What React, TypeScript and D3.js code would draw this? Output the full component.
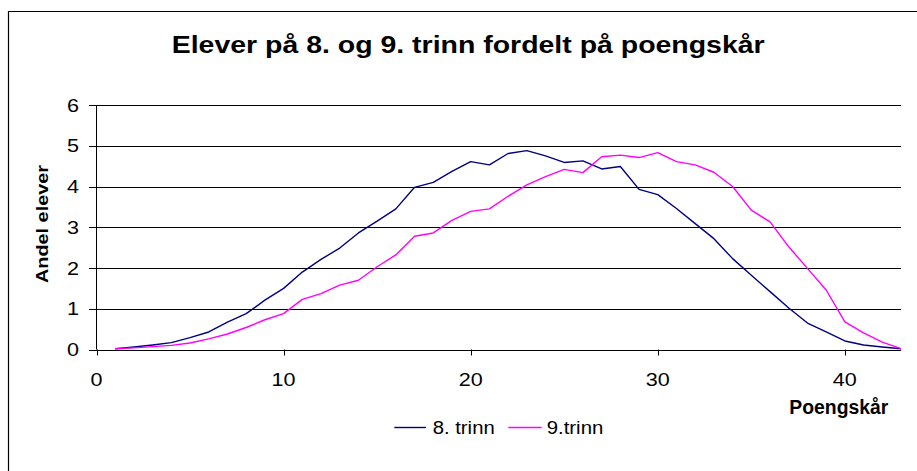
import React from "react";
import * as d3 from "d3";

const scores: number[] = d3.range(1, 44);
const trinn8: number[] = [0.02,0.06,0.11,0.17,0.29,0.43,0.67,0.88,1.21,1.5,1.9,2.21,2.49,2.86,3.15,3.45,3.98,4.1,4.37,4.61,4.53,4.81,4.88,4.75,4.59,4.63,4.43,4.49,3.93,3.8,3.46,3.09,2.72,2.23,1.82,1.42,1.02,0.65,0.43,0.21,0.11,0.06,0.02];
const trinn9: number[] = [0.02,0.04,0.07,0.1,0.16,0.26,0.38,0.54,0.73,0.88,1.23,1.37,1.58,1.7,2.03,2.32,2.78,2.86,3.17,3.39,3.45,3.76,4.04,4.24,4.42,4.34,4.73,4.77,4.71,4.83,4.61,4.53,4.35,4.0,3.42,3.13,2.52,1.99,1.46,0.68,0.41,0.18,0.02];
const xTicks: number[] = [0, 10, 20, 30, 40];
const yTicks: number[] = [0, 1, 2, 3, 4, 5, 6];
const seriesNames: string[] = ["8. trinn", "9.trinn"];
const seriesColors: string[] = ["#000080", "#FF00FF"];
const title = "Elever på 8. og 9. trinn fordelt på poengskår";
const xTitle = "Poengskår";
const yTitle = "Andel elever";

const W = 917, H = 471;
const font = "'Liberation Sans', Arial, sans-serif";

export default function App() {
  const x = d3.scaleLinear().domain([0, 43]).range([96.5, 901]);
  const y = d3.scaleLinear().domain([0, 6]).range([349.5, 105]);
  const line = d3.line<number>().x((_, i) => x(scores[i])).y((d) => y(d));
  const series = [trinn8, trinn9];
  const legend = [
    { lx1: 394.3, lx2: 426, tx: 432.7, tl: 62 },
    { lx1: 508.3, lx2: 541.7, tx: 546.7, tl: 56.6 },
  ];
  return (
    <svg width={W} height={H} style={{ position: "absolute", left: 0, top: 0, background: "#fff" }}>
      <rect x={0} y={0} width={W} height={H} fill="#fff" />
      <path d={`M8.5,${H + 2}V11.5H${W + 2}`} fill="none" stroke="#000" strokeWidth={1.2} />
      <text x={171.7} y={53.3} fontFamily={font} fontWeight="bold" fontSize={23} textLength={593} lengthAdjust="spacingAndGlyphs">{title}</text>
      {yTicks.map((t) => (
        <g key={"gy" + t}>
          <line x1={89} x2={x(43)} y1={Math.round(y(t)) + 0.5} y2={Math.round(y(t)) + 0.5} stroke="#000" strokeWidth={1} />
          <text x={79} y={y(t) + 6.7} textAnchor="end" fontFamily={font} fontSize={18.5} textLength={12} lengthAdjust="spacingAndGlyphs">{t}</text>
        </g>
      ))}
      <line x1={96.5} x2={96.5} y1={y(6)} y2={y(0)} stroke="#000" strokeWidth={1} />
      {xTicks.map((t) => (
        <g key={"gx" + t}>
          <line x1={Math.round(x(t)) + 0.5} x2={Math.round(x(t)) + 0.5} y1={y(0)} y2={355.5} stroke="#000" strokeWidth={1} />
          <text x={x(t)} y={386} textAnchor="middle" fontFamily={font} fontSize={18.5} textLength={t === 0 ? 12 : 24} lengthAdjust="spacingAndGlyphs">{t}</text>
        </g>
      ))}
      {series.map((s, i) => (
        <path key={"s" + i} d={line(s) || ""} fill="none" stroke={seriesColors[i]} strokeWidth={1.4} strokeLinejoin="round" />
      ))}
      <text transform="translate(48.3,224) rotate(-90)" textAnchor="middle" fontFamily={font} fontWeight="bold" fontSize={16.5} textLength={118} lengthAdjust="spacingAndGlyphs">{yTitle}</text>
      <text x={789.3} y={414.3} fontFamily={font} fontWeight="bold" fontSize={19.5} textLength={99} lengthAdjust="spacingAndGlyphs">{xTitle}</text>
      {legend.map((l, i) => (
        <g key={"l" + i}>
          <line x1={l.lx1} x2={l.lx2} y1={427.5} y2={427.5} stroke={seriesColors[i]} strokeWidth={1.4} />
          <text x={l.tx} y={434.3} fontFamily={font} fontSize={18} textLength={l.tl} lengthAdjust="spacingAndGlyphs">{seriesNames[i]}</text>
        </g>
      ))}
    </svg>
  );
}
